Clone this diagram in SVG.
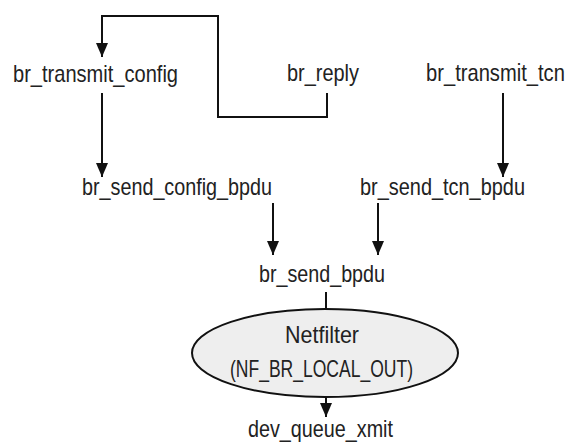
<svg xmlns="http://www.w3.org/2000/svg" width="570" height="446" viewBox="0 0 570 446">
<defs>
<marker id="ah" markerWidth="14" markerHeight="12" refX="14" refY="6" orient="auto" markerUnits="userSpaceOnUse" viewBox="0 0 14 12">
<path d="M0,0 L14,6 L0,12 Z" fill="#111"/>
</marker>
<style>
text{font-family:"Liberation Sans",Arial,sans-serif;font-size:24px;fill:#222}
.c{stroke:#111;stroke-width:2;fill:none}
.a{marker-end:url(#ah)}
</style>
</defs>
<rect width="570" height="446" fill="#fff"/>
<g id="connectors">
<polyline class="c a" points="327,93 327,117 218,117 218,16 102,16 102,57"/>
<line class="c a" x1="102" y1="93" x2="102" y2="177"/>
<line class="c a" x1="503" y1="93" x2="503" y2="177"/>
<line class="c a" x1="273" y1="203" x2="273" y2="255"/>
<line class="c a" x1="378" y1="203" x2="378" y2="255"/>
<line class="c" x1="326" y1="292" x2="326" y2="309"/>
<line class="c a" x1="326" y1="397" x2="326" y2="417"/>
</g>
<g id="br_transmit_config"><text x="13" y="82" textLength="165" lengthAdjust="spacingAndGlyphs">br_transmit_config</text></g>
<g id="br_reply"><text x="287" y="81" textLength="72" lengthAdjust="spacingAndGlyphs">br_reply</text></g>
<g id="br_transmit_tcn"><text transform="translate(426,81) scale(0.84,1)" x="0" y="0">br_transmit_tcn</text></g>
<g id="br_send_config_bpdu"><text x="82" y="195" textLength="190" lengthAdjust="spacingAndGlyphs">br_send_config_bpdu</text></g>
<g id="br_send_tcn_bpdu"><text x="360" y="195" textLength="165" lengthAdjust="spacingAndGlyphs">br_send_tcn_bpdu</text></g>
<g id="br_send_bpdu"><text x="259" y="282" textLength="126" lengthAdjust="spacingAndGlyphs">br_send_bpdu</text></g>
<g id="netfilter">
<ellipse cx="325" cy="353" rx="133" ry="44" fill="#eeeeee" stroke="#111" stroke-width="2"/>
<text x="285" y="343" textLength="74" lengthAdjust="spacingAndGlyphs">Netfilter</text>
<text x="230" y="377" textLength="183" lengthAdjust="spacingAndGlyphs">(NF_BR_LOCAL_OUT)</text>
</g>
<g id="dev_queue_xmit"><text x="248" y="437" textLength="145" lengthAdjust="spacingAndGlyphs">dev_queue_xmit</text></g>
</svg>
